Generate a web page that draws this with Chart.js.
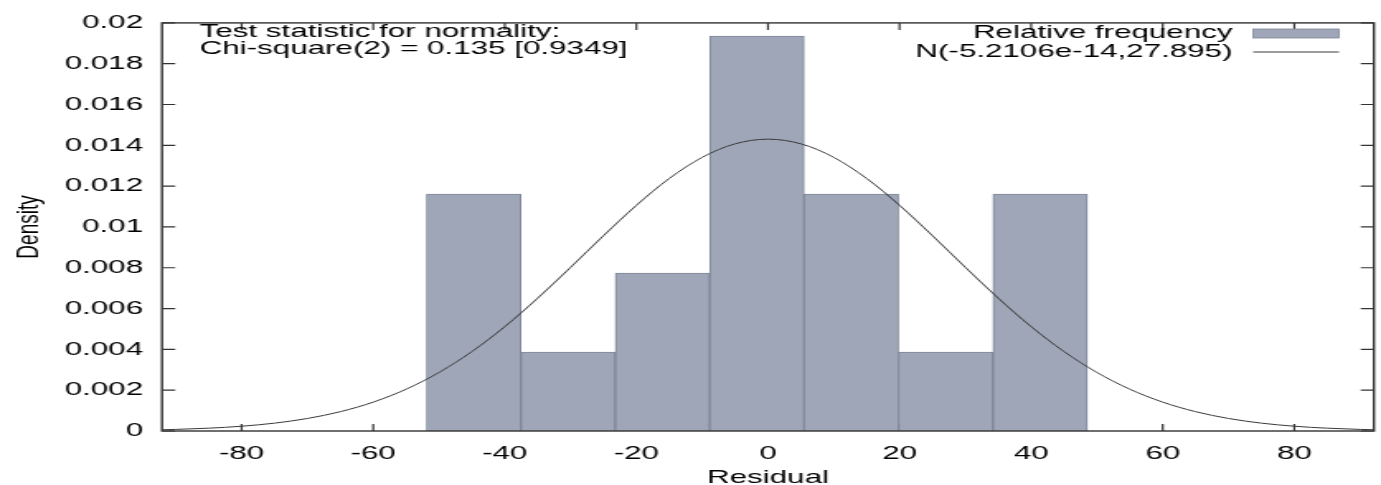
<!DOCTYPE html>
<html>
<head>
<meta charset="utf-8">
<script src="https://cdn.jsdelivr.net/npm/chart.js@4.4.1/dist/chart.umd.min.js"></script>
<style>
  html, body { margin: 0; padding: 0; background: #fff; overflow: hidden; }
  /* the reference image is stretched sideways, so draw narrow and stretch */
  #chart { display: block; transform-origin: 0 0; transform: scaleX(1.64994); }
</style>
</head>
<body>
<canvas id="chart" width="837" height="485"></canvas>
<script>
// histogram of residuals (density per bin)
var binCenters = [-44.73, -30.38, -16.03, -1.68, 12.67, 27.02, 41.37];
var binDensity = [0.01161, 0.00387, 0.00774, 0.01936, 0.01161, 0.00387, 0.01161];

// fitted normal curve
var curveX = [-92, -90, -85, -80, -75, -70, -65, -60, -55, -50, -45, -40, -35, -30, -25, -20, -15, -10, -5, 0,
              5, 10, 15, 20, 25, 30, 35, 40, 45, 50, 55, 60, 65, 70, 75, 80, 85, 90, 92];
var curveY = [0.0000622, 0.0000785, 0.000138, 0.000234, 0.000385, 0.000614, 0.000947, 0.001415, 0.002048, 0.002869,
              0.003893, 0.005116, 0.006510, 0.008021, 0.009572, 0.011060, 0.012377, 0.013412, 0.014074, 0.014302,
              0.014074, 0.013412, 0.012377, 0.011060, 0.009572, 0.008021, 0.006510, 0.005116, 0.003893, 0.002869,
              0.002048, 0.001415, 0.000947, 0.000614, 0.000385, 0.000234, 0.000138, 0.0000785, 0.0000622];

var xTicks = [-80, -60, -40, -20, 0, 20, 40, 60, 80];
var yTicks = [0, 0.002, 0.004, 0.006, 0.008, 0.01, 0.012, 0.014, 0.016, 0.018, 0.02];
var yTickLabels = ['0', '0.002', '0.004', '0.006', '0.008', '0.01', '0.012', '0.014', '0.016', '0.018', '0.02'];

var seriesNames = ['Relative frequency', 'N(-5.2106e-14,27.895)'];
var noteLines = ['Test statistic for normality:', 'Chi-square(2) = 0.135 [0.9349]'];

var FAMILY = '"Liberation Sans", Arial, sans-serif';
var FONT = '19px ' + FAMILY;
var barFill = '#9fa6b7';
var barEdge = '#7f8799';
var lineColor = '#3a3a3a';

var histData = [];
for (var i = 0; i < binCenters.length; i++) histData.push({ x: binCenters[i], y: binDensity[i] });
var curveData = [];
for (var j = 0; j < curveX.length; j++) curveData.push({ x: curveX[j], y: curveY[j] });

// gnuplot style frame: box with inward ticks on all sides
var framePlugin = {
  id: 'frame',
  beforeDatasetsDraw: function (chart) {
    var ctx = chart.ctx, a = chart.chartArea;
    var xs = chart.scales.x, ys = chart.scales.y;
    ctx.save();
    ctx.strokeStyle = '#333';
    ctx.lineWidth = 1.2;
    ctx.beginPath();
    xTicks.forEach(function (v) {
      var px = xs.getPixelForValue(v);
      ctx.moveTo(px, a.bottom); ctx.lineTo(px, a.bottom - 7);
      ctx.moveTo(px, a.top); ctx.lineTo(px, a.top + 7);
    });
    yTicks.forEach(function (v) {
      var py = ys.getPixelForValue(v);
      ctx.moveTo(a.left, py); ctx.lineTo(a.left + 8, py);
      ctx.moveTo(a.right, py); ctx.lineTo(a.right - 8, py);
    });
    ctx.stroke();
    ctx.restore();
  },
  afterDatasetsDraw: function (chart) {
    var ctx = chart.ctx, a = chart.chartArea;
    ctx.save();
    ctx.strokeStyle = '#333';
    ctx.lineWidth = 1.4;
    ctx.strokeRect(a.left, a.top, a.right - a.left, a.bottom - a.top);
    ctx.restore();
  },
  afterDraw: function (chart) {
    var ctx = chart.ctx;
    ctx.save();
    ctx.font = FONT;
    ctx.fillStyle = '#000';
    ctx.textBaseline = 'middle';
    // note in top left
    ctx.textAlign = 'left';
    ctx.fillText(noteLines[0], 121, 31.5);
    ctx.fillText(noteLines[1], 121, 49);
    // legend in top right
    ctx.textAlign = 'right';
    ctx.fillText(seriesNames[0], 747, 33);
    ctx.fillText(seriesNames[1], 747, 51.5);
    ctx.fillStyle = barFill;
    ctx.fillRect(759.5, 29, 52, 9);
    ctx.strokeStyle = barEdge;
    ctx.lineWidth = 0.8;
    ctx.strokeRect(759.5, 29, 52, 9);
    ctx.strokeStyle = lineColor;
    ctx.lineWidth = 1;
    ctx.beginPath();
    ctx.moveTo(759.5, 52); ctx.lineTo(811.5, 52);
    ctx.stroke();
    ctx.restore();
  }
};

new Chart(document.getElementById('chart'), {
  type: 'bar',
  data: {
    datasets: [{
      type: 'line',
      label: seriesNames[1],
      data: curveData,
      borderColor: lineColor,
      borderWidth: 1,
      pointRadius: 0,
      cubicInterpolationMode: 'monotone',
      fill: false,
      order: 1
    }, {
      type: 'bar',
      label: seriesNames[0],
      data: histData,
      backgroundColor: barFill,
      borderColor: barEdge,
      borderWidth: 1,
      barPercentage: 1,
      categoryPercentage: 1,
      order: 2
    }]
  },
  options: {
    responsive: false,
    animation: false,
    layout: { padding: { top: 17, right: 4.3, left: 0, bottom: 0 } },
    plugins: { legend: { display: false }, tooltip: { enabled: false } },
    scales: {
      x: {
        type: 'linear',
        offset: false,
        min: -92.1,
        max: 92.1,
        afterBuildTicks: function (s) { s.ticks = xTicks.map(function (v) { return { value: v }; }); },
        afterFit: function (s) { s.height = 54; },
        grid: { display: false, drawTicks: false, tickLength: 0 },
        border: { display: false },
        ticks: { color: '#000', font: { family: FAMILY, size: 19 }, padding: 11, maxRotation: 0, autoSkip: false },
        title: { display: true, text: 'Residual', color: '#000', padding: { top: 0, bottom: -2 },
                 font: { family: FAMILY, size: 19, lineHeight: 1 } }
      },
      y: {
        min: 0,
        max: 0.02,
        afterBuildTicks: function (s) { s.ticks = yTicks.map(function (v) { return { value: v }; }); },
        afterFit: function (s) { s.width = 98.2; },
        grid: { display: false, drawTicks: false, tickLength: 0 },
        border: { display: false },
        ticks: {
          color: '#000', font: { family: FAMILY, size: 19 }, padding: 11.5,
          callback: function (v, idx) { return yTickLabels[idx]; }
        },
        title: { display: true, text: 'Density', color: '#000', padding: { top: 8.7, bottom: 0 },
                 font: { family: FAMILY, size: 19, lineHeight: 1 } }
      }
    }
  },
  plugins: [framePlugin]
});
</script>
</body>
</html>
